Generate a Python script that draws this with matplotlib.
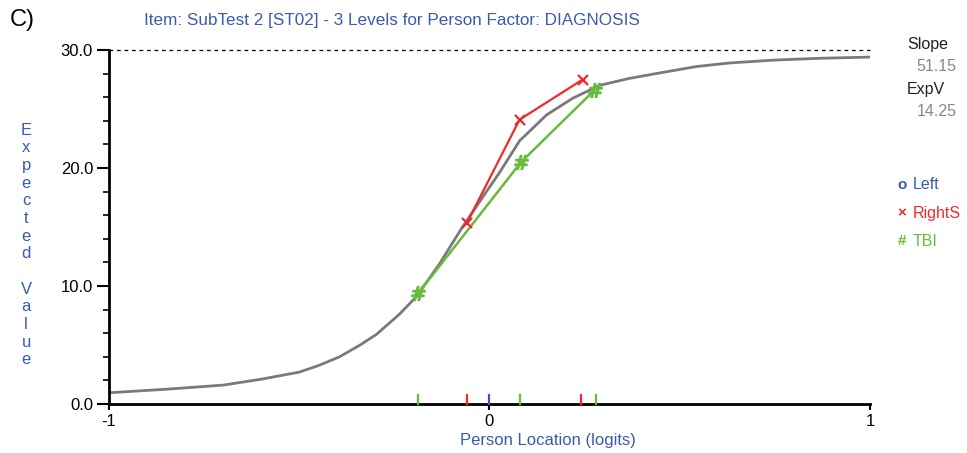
import matplotlib
matplotlib.use('Agg')
import matplotlib.pyplot as plt
from matplotlib import font_manager

# expected value curve
curve_x = [-1.0, -0.85, -0.70, -0.60, -0.50, -0.45, -0.394, -0.34, -0.297, -0.237,
           -0.192, -0.131, -0.071, -0.008, 0.026, 0.079, 0.15, 0.218, 0.289, 0.368,
           0.455, 0.544, 0.63, 0.75, 0.87, 1.0]
curve_y = [0.95, 1.25, 1.6, 2.1, 2.7, 3.25, 4.0, 5.0, 5.9, 7.6,
           9.1, 11.9, 15.0, 18.0, 19.6, 22.3, 24.5, 25.9, 27.0, 27.6,
           28.1, 28.6, 28.9, 29.15, 29.3, 29.4]

red_x = [-0.06, 0.079, 0.245]
red_y = [15.3, 24.1, 27.5]
green_x = [-0.187, 0.083, 0.276]
green_y = [9.4, 20.5, 26.6]

# group locations marked on the x axis
left_ticks = [0.0]
red_ticks = [-0.06, 0.24]
green_ticks = [-0.187, 0.08, 0.28]

slope = '51.15'
expv = '14.25'

BLUE = '#3a5bb0'
RED = '#ee2a2a'
GREEN = '#66bb3a'
GRAY = '#7a7a7a'

names = [f.name for f in font_manager.fontManager.ttflist]
narrow = 'Liberation Sans Narrow' if 'Liberation Sans Narrow' in names else 'Liberation Sans'
plt.rcParams['font.family'] = [narrow, 'DejaVu Sans']

fig = plt.figure(figsize=(9.67, 4.53), dpi=100)
ax = fig.add_axes([0.1127, 0.1082, 0.787, 0.7814])

ax.plot(curve_x, curve_y, color=GRAY, lw=2.0, zorder=2)
ax.plot(green_x, green_y, color=GREEN, lw=1.8, zorder=3)
ax.plot(green_x, green_y, ls='none', marker='$\\#$', ms=10, color=GREEN, zorder=4)
ax.plot(red_x, red_y, color=RED, lw=1.6, zorder=3)
ax.plot(red_x, red_y, ls='none', marker='x', ms=7, mew=1.6, color=RED, zorder=4)

for xs, c in [(left_ticks, BLUE), (red_ticks, RED), (green_ticks, GREEN)]:
    for x in xs:
        ax.plot([x, x], [0, 0.75], color=c, lw=1.6, zorder=5, clip_on=False)

ax.plot([-1, 1.0], [30, 30], color='black', ls=(0, (3, 3)), lw=0.9, clip_on=False)

ax.set_xlim(-1, 1)
ax.set_ylim(0, 30)
ax.set_xticks([-1, 0, 1])
ax.set_xticklabels(['-1', '0', '1'])
ax.set_yticks([0, 10, 20, 30])
ax.set_yticklabels(['0.0', '10.0', '20.0', '30.0'])
ax.set_yticks([2, 4, 6, 8, 12, 14, 16, 18, 22, 24, 26, 28], minor=True)
ax.tick_params(axis='both', which='major', direction='out', width=1.5, labelsize=12)
ax.tick_params(axis='y', which='major', length=8.5, pad=3)
ax.tick_params(axis='x', which='major', length=4.5, pad=3)
ax.tick_params(axis='y', which='minor', direction='out', length=4, width=1.2)
ax.spines['top'].set_visible(False)
ax.spines['right'].set_visible(False)
ax.spines['left'].set_linewidth(2)
ax.spines['bottom'].set_linewidth(2)

fig.text(0.01, 0.955, 'C)', fontsize=17, ha='left', va='center', family='Liberation Sans')
fig.text(0.405, 0.955, 'Item: SubTest 2 [ST02] - 3 Levels for Person Factor: DIAGNOSIS',
         color=BLUE, fontsize=12.3, ha='center', va='center')
fig.text(0.567, 0.027, 'Person Location (logits)', color=BLUE, fontsize=12,
         ha='center', va='center')

ylabel = 'Expected Value'
yy = 0.713
for ch in ylabel:
    if ch != ' ':
        fig.text(0.027, yy, ch, color=BLUE, fontsize=12, ha='center', va='center')
    yy -= 0.039

fig.text(0.938, 0.902, 'Slope', color='#222222', fontsize=11.5, ha='left', va='center')
fig.text(0.948, 0.853, slope, color='#888888', fontsize=11.5, ha='left', va='center')
fig.text(0.938, 0.802, 'ExpV', color='#222222', fontsize=11.5, ha='left', va='center')
fig.text(0.948, 0.753, expv, color='#888888', fontsize=11.5, ha='left', va='center')

legend = [('o', 'Left', BLUE), ('\u00d7', 'RightS', RED), ('#', 'TBI', GREEN)]
ly = 0.592
for sym, lab, c in legend:
    fig.text(0.928, ly, sym, color=c, fontsize=11, ha='left', va='center', weight='bold')
    fig.text(0.944, ly, lab, color=c, fontsize=11.5, ha='left', va='center')
    ly -= 0.0625

fig.savefig('out.png', dpi=100)
